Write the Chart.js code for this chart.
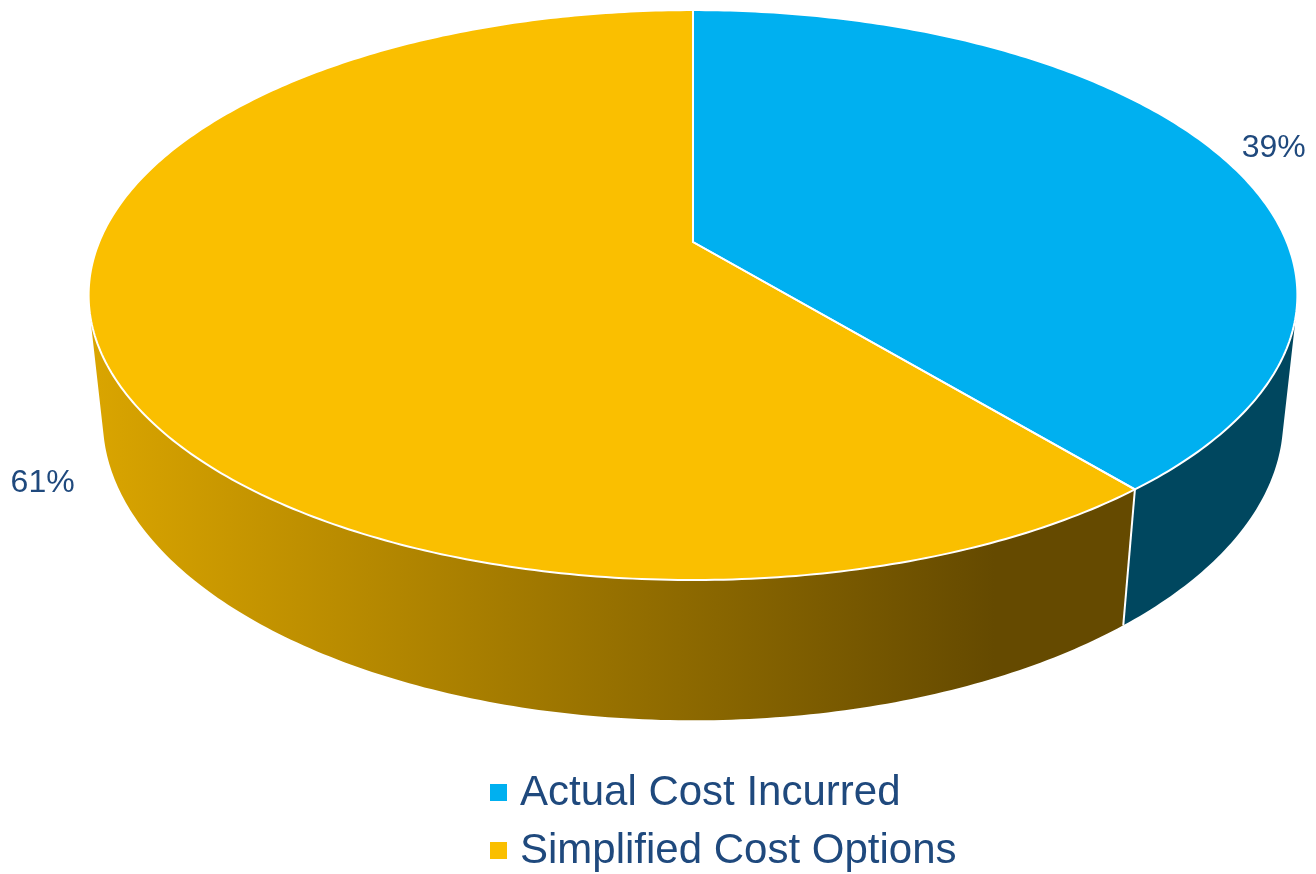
<!DOCTYPE html>
<html>
<head>
<meta charset="utf-8">
<script src="https://cdn.jsdelivr.net/npm/chart.js@4.4.1/dist/chart.umd.min.js"></script>
<style>
  html, body { margin: 0; padding: 0; background: #fff; }
</style>
</head>
<body>
<canvas id="cost-pie" width="1316" height="874"></canvas>
<script>
const categories = ['Actual Cost Incurred', 'Simplified Cost Options'];
const shares = [39, 61];
const topColors = ['#00B0F0', '#FABF00'];
const wallColors = [['#00475F', '#00475F'], ['#DAA500', '#654A00']];
const textColor = '#1F497D';

// perspective camera for the tilted disc, lengths in pie radii
const VIEW = { dist: 4.76, tilt: 27.6 * Math.PI / 180, depth: 0.238, focal: 11.68 };

// phi: clockwise from the top of the pie, level 0 = top face, 1 = bottom face
function project(arc, phi, rho, level) {
    const x = rho * Math.sin(phi), z = -rho * Math.cos(phi), y = -level * VIEW.depth;
    const ca = Math.cos(VIEW.tilt), sa = Math.sin(VIEW.tilt);
    const up = y * ca - z * sa;
    const toward = y * sa + z * ca;
    const d = VIEW.dist - toward;
    const f = VIEW.focal * arc.outerRadius;
    return [arc.x + f * x / d, arc.y - f * up / d];
}

function edgePath(ctx, arc, a0, a1, level, first) {
    const steps = Math.max(6, Math.ceil(Math.abs(a1 - a0) * 80));
    for (let k = 0; k <= steps; k++) {
        const p = project(arc, a0 + (a1 - a0) * k / steps, 1, level);
        if (first && k === 0) ctx.moveTo(p[0], p[1]); else ctx.lineTo(p[0], p[1]);
    }
}

const pie3d = {
    id: 'pie3d',
    beforeDatasetsDraw(chart) {
        const ctx = chart.ctx;
        const arcs = chart.getDatasetMeta(0).data;
        const limit = Math.acos(-1 / (VIEW.dist * Math.cos(VIEW.tilt)));
        ctx.save();
        ctx.lineJoin = 'round';

        // outer walls, front part only
        arcs.forEach((arc, i) => {
            const a0 = Math.max(arc.startAngle + Math.PI / 2, limit);
            const a1 = Math.min(arc.endAngle + Math.PI / 2, 2 * Math.PI - limit);
            if (a1 <= a0) return;
            ctx.beginPath();
            edgePath(ctx, arc, a0, a1, 0, true);
            edgePath(ctx, arc, a1, a0, 1, false);
            ctx.closePath();
            const left = project(arc, 2 * Math.PI - limit, 1, 0)[0];
            const g = ctx.createLinearGradient(left, 0, arc.x + 0.5 * (arc.x - left), 0);
            g.addColorStop(0, wallColors[i][0]);
            g.addColorStop(1, wallColors[i][1]);
            ctx.fillStyle = g;
            ctx.fill();
        });

        // white seams where slices meet on the wall
        ctx.strokeStyle = '#fff';
        ctx.lineWidth = 2;
        arcs.forEach(arc => {
            const a = arc.startAngle + Math.PI / 2;
            if (a > limit && a < 2 * Math.PI - limit) {
                const p = project(arc, a, 1, 0), q = project(arc, a, 1, 1);
                ctx.beginPath();
                ctx.moveTo(p[0], p[1]);
                ctx.lineTo(q[0], q[1]);
                ctx.stroke();
            }
        });

        // top faces
        const faces = arcs.map(arc => {
            const path = new Path2D();
            path.moveTo(arc.x, arc.y);
            const a0 = arc.startAngle + Math.PI / 2, a1 = arc.endAngle + Math.PI / 2;
            const steps = Math.ceil((a1 - a0) * 80);
            for (let k = 0; k <= steps; k++) {
                const p = project(arc, a0 + (a1 - a0) * k / steps, 1, 0);
                path.lineTo(p[0], p[1]);
            }
            path.closePath();
            return path;
        });
        faces.forEach((path, i) => {
            ctx.fillStyle = topColors[i];
            ctx.fill(path);
        });
        faces.forEach(path => ctx.stroke(path));
        ctx.restore();
        return false;
    },
    afterDraw(chart) {
        const ctx = chart.ctx;
        const arcs = chart.getDatasetMeta(0).data;
        const total = shares.reduce((s, v) => s + v, 0);
        ctx.save();
        ctx.fillStyle = textColor;
        ctx.font = '32px "Liberation Sans", Arial, sans-serif';
        ctx.textAlign = 'center';
        ctx.textBaseline = 'middle';
        arcs.forEach((arc, i) => {
            const mid = (arc.startAngle + arc.endAngle) / 2 + Math.PI / 2;
            const p = project(arc, mid, 1.1, Math.cos(mid) < 0 ? 1 : 0);
            const nudge = Math.sign(Math.sin(mid)) * 6;
            ctx.fillText(Math.round(shares[i] / total * 100) + '%', p[0] + nudge, p[1] + 2);
        });

        // legend, stacked
        ctx.textAlign = 'left';
        ctx.font = '42px "Liberation Sans", Arial, sans-serif';
        categories.forEach((name, i) => {
            const y = 792 + i * 58;
            ctx.fillStyle = topColors[i];
            ctx.fillRect(490, y - 8, 17, 17);
            ctx.fillStyle = textColor;
            ctx.fillText(name, 520, y + 1);
        });
        ctx.restore();
    }
};

new Chart(document.getElementById('cost-pie').getContext('2d'), {
    type: 'pie',
    data: {
        labels: categories,
        datasets: [{ data: shares, backgroundColor: topColors, borderWidth: 0 }]
    },
    options: {
        responsive: false,
        devicePixelRatio: 1,
        animation: false,
        layout: { padding: { left: 70, right: 0, top: 0, bottom: 390 } },
        plugins: { legend: { display: false }, tooltip: { enabled: false } }
    },
    plugins: [pie3d]
});
</script>
</body>
</html>
